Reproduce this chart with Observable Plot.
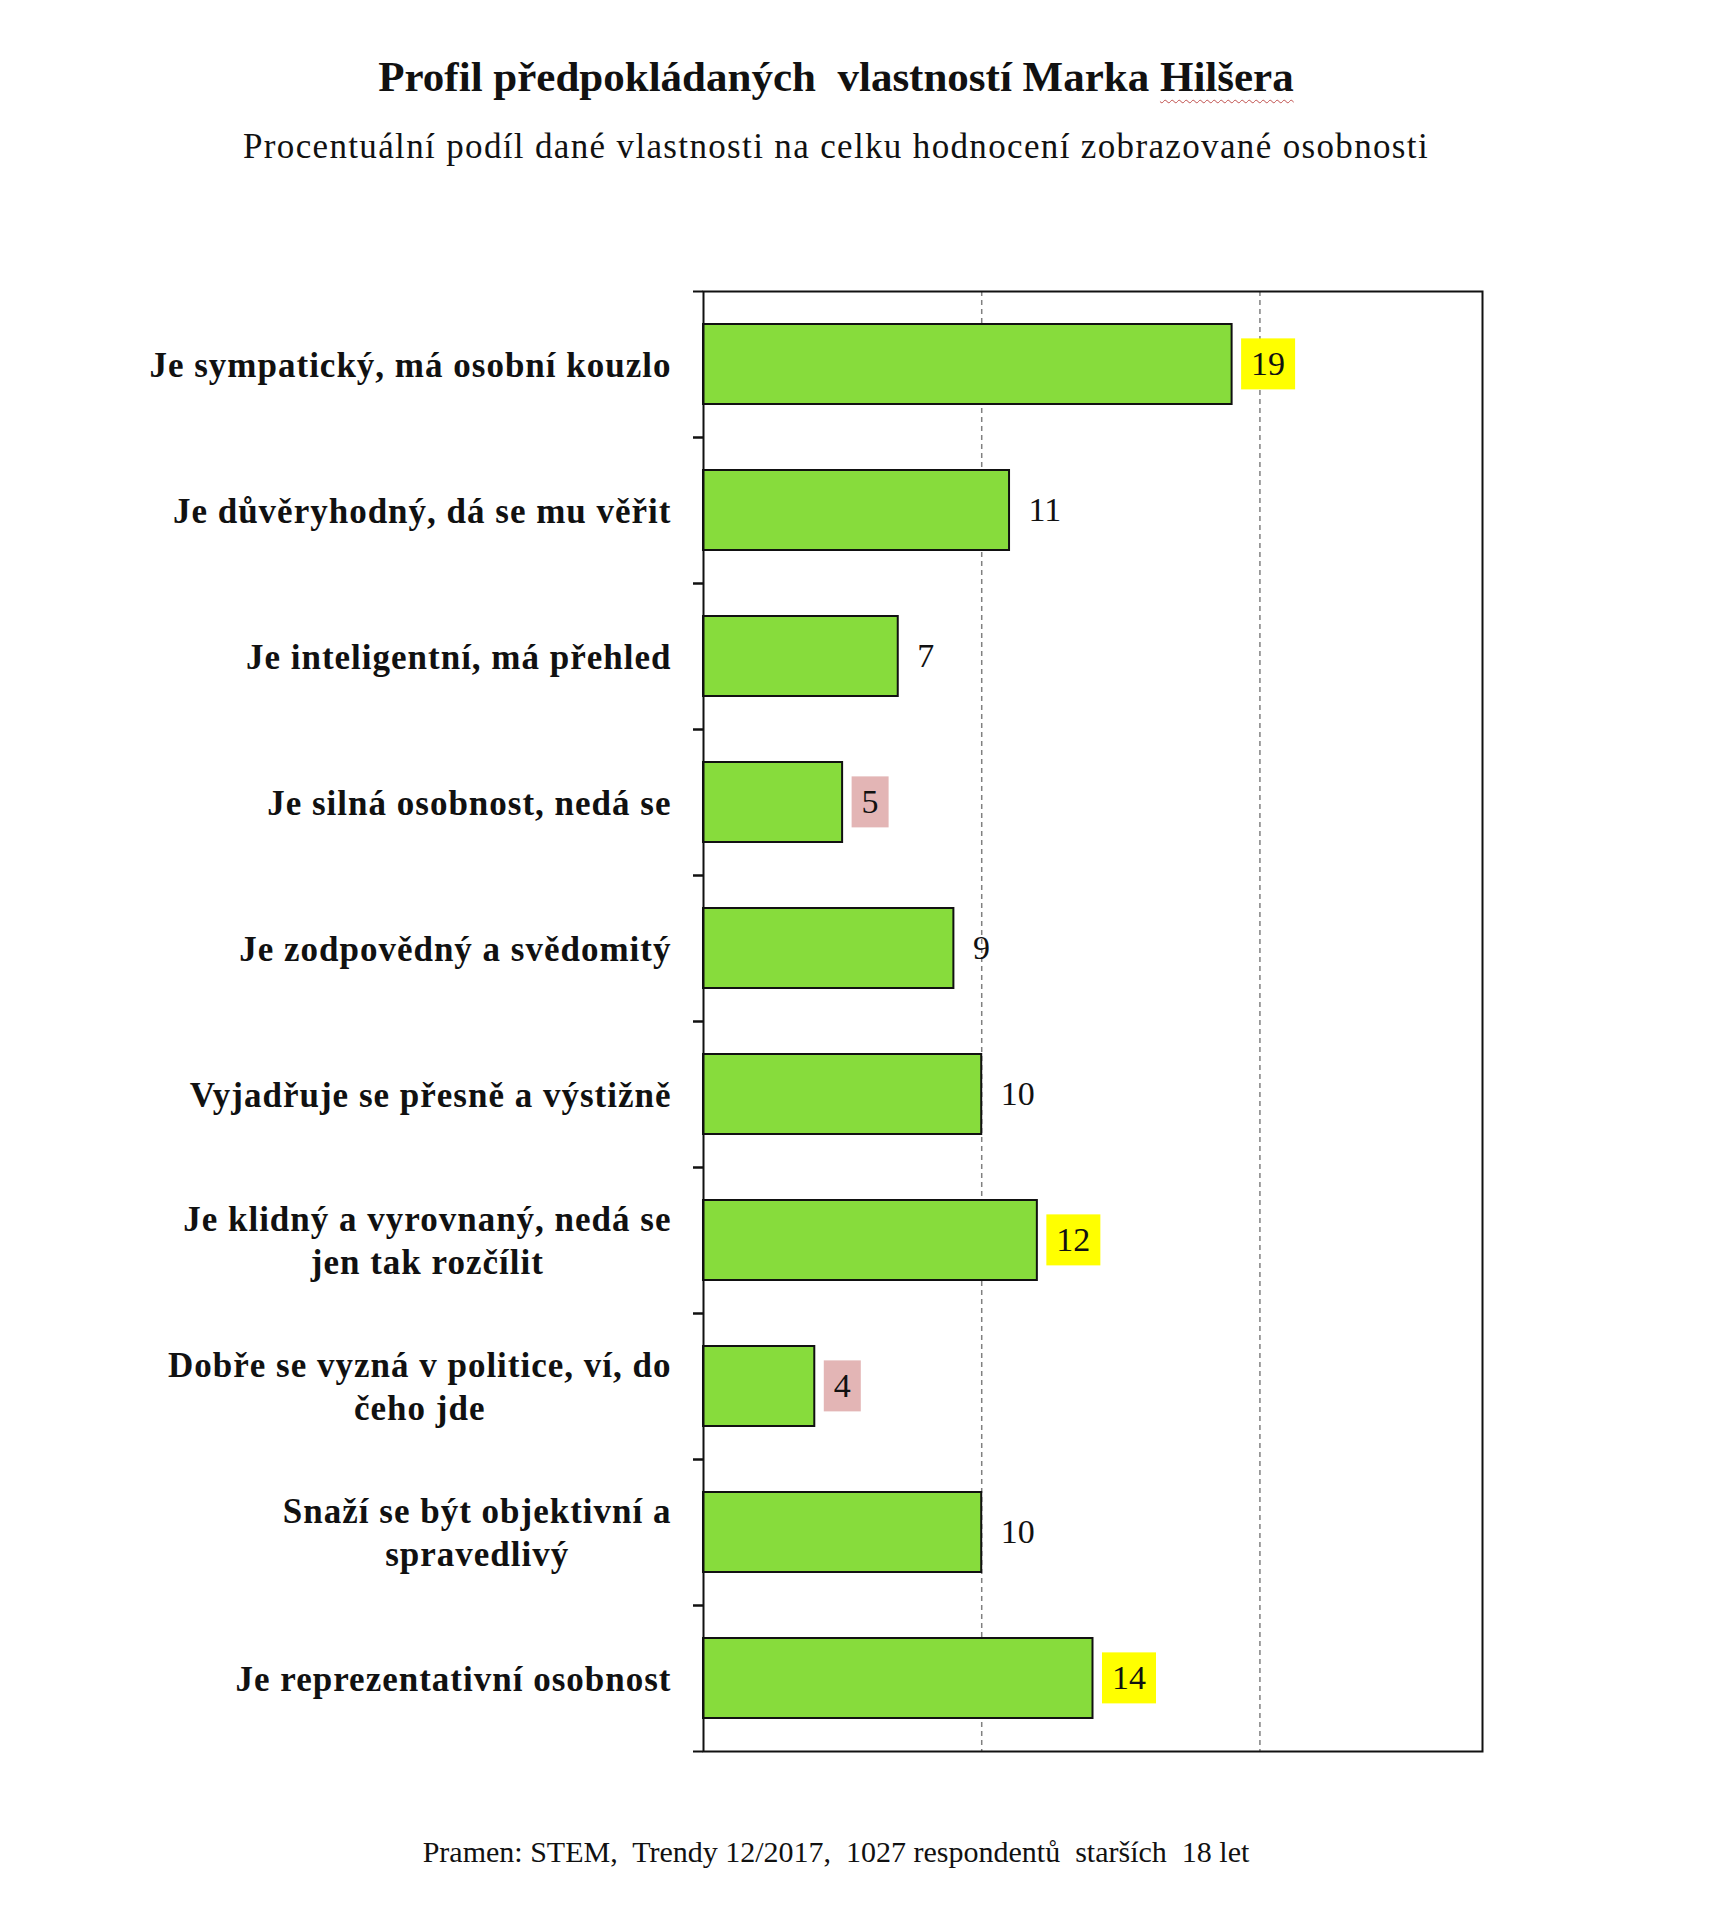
<!DOCTYPE html>
<html lang="cs">
<head>
<meta charset="utf-8">
<title>Profil předpokládaných vlastností Marka Hilšera</title>
<script src="https://cdn.jsdelivr.net/npm/d3@7"></script>
<script src="https://cdn.jsdelivr.net/npm/@observablehq/plot@0.6"></script>
<style>
  html, body { margin: 0; background: #fff; }
  #page {
    position: relative; width: 1727px; height: 1920px;
    font-family: "Liberation Serif", "Times New Roman", serif; color: #111;
  }
  .line { position: absolute; left: 0; width: 1672px; text-align: center; white-space: pre; }
  #title { top: 49px; font-size: 43px; line-height: 56px; font-weight: bold; }
  #title .spell { text-decoration: underline wavy #c0504d; text-decoration-thickness: 1px; text-underline-offset: 8px; }
  #subtitle { top: 126px; font-size: 35px; line-height: 42px; letter-spacing: 1.35px; }
  #chart { position: absolute; left: 0; top: 240px; }
  #source { top: 1833px; font-size: 30px; line-height: 38px; }
</style>
</head>
<body>
<div id="page">
  <div id="title" class="line">Profil předpokládaných  vlastností Marka <span class="spell">Hilšera</span></div>
  <div id="subtitle" class="line">Procentuální podíl dané vlastnosti na celku hodnocení zobrazované osobnosti</div>
  <div id="chart"></div>
  <div id="source" class="line">Pramen: STEM,  Trendy 12/2017,  1027 respondentů  starších  18 let</div>
</div>
<script>
// Rated traits, top to bottom
const traits = [
  "Je sympatický, má osobní kouzlo",
  "Je důvěryhodný, dá se mu věřit",
  "Je inteligentní, má přehled",
  "Je silná osobnost, nedá se",
  "Je zodpovědný a svědomitý",
  "Vyjadřuje se přesně a výstižně",
  "Je klidný a vyrovnaný, nedá se\njen tak rozčílit",
  "Dobře se vyzná v politice, ví, do\nčeho jde",
  "Snaží se být objektivní a\nspravedlivý",
  "Je reprezentativní osobnost"
];
// Share of each trait in the overall rating (%)
const shares = [19, 11, 7, 5, 9, 10, 12, 4, 10, 14];
// Label highlight: "high" = strong trait, "low" = weak trait
const highlights = ["high", null, null, "low", null, null, "high", "low", null, "high"];
// Dashed reference lines
const gridValues = [10, 20];

const rows = traits.map((trait, i) => ({trait, share: shares[i], highlight: highlights[i]}));

const plotHeight = 1460;              // inner plot height
const step = plotHeight / traits.length;
const ink = "#111";

const chart = Plot.plot({
  width: 1560,
  height: 1531,
  marginLeft: 703,
  marginRight: 78,
  marginTop: 51,
  marginBottom: 20,
  x: {domain: [0, 28], axis: null},
  y: {domain: traits, axis: null, paddingInner: 0.45, paddingOuter: 0.225},
  style: {fontFamily: "'Liberation Serif', 'Times New Roman', serif", background: "transparent", color: ink},
  marks: [
    Plot.ruleX(gridValues, {stroke: "#808080", strokeWidth: 1.5, strokeDasharray: "5,4"}),
    Plot.barX(rows, {x: "share", y: "trait", fill: "#87dc3c", stroke: ink, strokeWidth: 2}),
    Plot.frame({stroke: ink, strokeWidth: 2}),
    // category boundary ticks on the left axis
    Plot.ruleY(rows, {y: "trait", x1: 0, x2: 0, insetLeft: -10, dy: -step / 2, stroke: ink, strokeWidth: 2}),
    Plot.ruleY(rows, {y: "trait", x1: 0, x2: 0, insetLeft: -10, dy: step / 2, stroke: ink, strokeWidth: 2}),
    Plot.text(rows, {
      x: 0, y: "trait", text: "trait", textAnchor: "end", dx: -32, dy: -1.5,
      fontSize: 35, fontWeight: "bold", lineHeight: 1.22, fill: ink
    }),
    Plot.text(rows, {
      x: "share", y: "trait", text: d => String(d.share), textAnchor: "start", dx: 19,
      fontSize: 34, fill: ink
    })
  ]
});

document.getElementById("chart").appendChild(chart);

// Text groups in mark order: category labels, then value labels
const textGroups = Array.from(chart.querySelectorAll("g")).filter(g => g.querySelector(":scope > text"));
const [traitGroup, valueGroup] = textGroups;

// Slightly spaced-out category labels, multi-line ones centred within their block
traitGroup.setAttribute("letter-spacing", "1");
traitGroup.querySelectorAll(":scope > text").forEach(t => {
  const spans = Array.from(t.querySelectorAll("tspan"));
  if (spans.length < 2) return;
  const widths = spans.map(s => s.getComputedTextLength());
  const maxW = Math.max(...widths);
  spans.forEach((s, k) => s.setAttribute("dx", -(maxW - widths[k]) / 2));
});

// Coloured backgrounds behind highlighted value labels
const boxFill = {high: "#ffff00", low: "#e3b5b5"};
valueGroup.querySelectorAll(":scope > text").forEach((t, i) => {
  const h = rows[i].highlight;
  if (!h) return;
  const bb = t.getBBox();
  const padX = 10, padY = 7;
  const r = document.createElementNS("http://www.w3.org/2000/svg", "rect");
  r.setAttribute("x", bb.x - padX);
  r.setAttribute("y", bb.y - padY);
  r.setAttribute("width", bb.width + 2 * padX);
  r.setAttribute("height", bb.height + 2 * padY);
  r.setAttribute("fill", boxFill[h]);
  const tr = t.getAttribute("transform");
  if (tr) r.setAttribute("transform", tr);
  valueGroup.insertBefore(r, t);
});
</script>
</body>
</html>
